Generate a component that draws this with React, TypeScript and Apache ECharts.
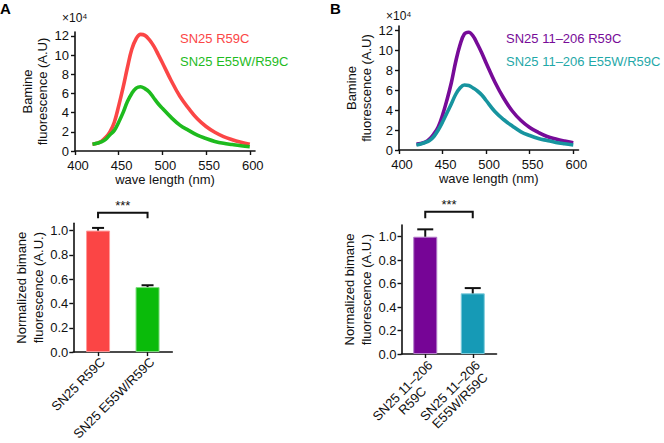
import React, { useEffect, useRef } from "react";
import * as echarts from "echarts";

// ---------- data ----------
const wavelength = [420, 425, 430, 435, 440, 445, 450, 455, 460, 465, 470, 475, 480, 485, 490, 495, 500, 510, 520, 530, 540, 550, 560, 570, 580, 590, 600];
const redA = [0.7, 0.8, 1.0, 1.4, 2.0, 3.0, 4.7, 6.6, 8.7, 10.6, 11.7, 12.15, 12.05, 11.6, 10.95, 10.1, 9.2, 7.35, 5.7, 4.45, 3.35, 2.55, 1.95, 1.5, 1.18, 0.92, 0.7];
const greenA = [0.7, 0.8, 0.95, 1.2, 1.7, 2.15, 3.0, 4.0, 5.15, 6.0, 6.55, 6.7, 6.5, 6.15, 5.55, 4.95, 4.45, 3.5, 2.7, 2.15, 1.65, 1.3, 1.0, 0.8, 0.67, 0.55, 0.45];
const purpleB = [0.6, 0.65, 0.78, 1.1, 1.6, 2.3, 3.5, 5.0, 6.7, 8.8, 10.5, 11.6, 11.78, 11.4, 10.6, 9.7, 8.7, 6.8, 5.2, 3.9, 2.95, 2.25, 1.75, 1.35, 1.1, 0.9, 0.73];
const tealB = [0.5, 0.6, 0.75, 0.95, 1.35, 2.0, 2.8, 3.7, 4.6, 5.55, 6.2, 6.5, 6.45, 6.2, 5.9, 5.5, 4.95, 3.85, 3.05, 2.4, 1.82, 1.45, 1.15, 0.95, 0.76, 0.62, 0.5];

const seriesNamesA = ["SN25 R59C", "SN25 E55W/R59C"];
const seriesNamesB = ["SN25 11\u2013206 R59C", "SN25 11\u2013206 E55W/R59C"];

const xTicks = [400, 450, 500, 550, 600];
const yTicksLine = [0, 2, 4, 6, 8, 10, 12];
const yTicksBar = [0, 0.2, 0.4, 0.6, 0.8, 1.0];

const barCatsA = ["SN25 R59C", "SN25 E55W/R59C"];
const barValsA = [1.0, 0.535];
const barErrA = [0.022, 0.015];
const barCatsB = ["SN25 11\u2013206\nR59C", "SN25 11\u2013206\nE55W/R59C"];
const barValsB = [1.0, 0.517];
const barErrB = [0.063, 0.045];

// bracket: [cat1, cat2, legBottom, barTop, starY]
const bracketA = [0, 1, 1.101, 1.147, 1.21];
const bracketB = [0, 1, 1.157, 1.213, 1.274];
const sigLabel = "***";

const colors = {
  red: "#fb4646",
  green: "#1ebb1e",
  purple: "#770b98",
  teal: "#17949f",
  tealText: "#1fa8a8",
  barRed: "#fb4545",
  barGreen: "#0abb0a",
  barPurple: "#760596",
  barTeal: "#169ab6",
};

const FONT = "'Liberation Sans', Arial, Helvetica, sans-serif";
const INK = "#111";

export default function App() {
  const ref = useRef<HTMLDivElement>(null);

  useEffect(() => {
    if (!ref.current) return;
    const chart = echarts.init(ref.current, null, { renderer: "svg" });

    const axisLine = { show: true, lineStyle: { color: INK, width: 1.6 } };
    const tick = (vals: number[]) => ({ show: true, length: 4, lineStyle: { color: INK, width: 1.4 }, customValues: vals });
    const lbl = (vals: number[], extra: any = {}) => ({
      customValues: vals,
      color: INK,
      fontSize: 13,
      fontFamily: FONT,
      ...extra,
    });

    const lineX = (grid: number) => ({
      gridIndex: grid,
      type: "value",
      min: 400,
      max: 606,
      axisLine,
      axisTick: tick(xTicks),
      axisLabel: lbl(xTicks, { margin: 7, padding: [0, 0, 0, 6], lineHeight: 14 }),
      splitLine: { show: false },
      name: "wave length (nm)",
      nameLocation: "middle",
      nameGap: 19.5,
      nameTextStyle: { color: INK, fontSize: 13, fontFamily: FONT },
    });
    const lineY = (grid: number, gap: number) => ({
      gridIndex: grid,
      type: "value",
      min: 0,
      max: 12.4,
      axisLine,
      axisTick: tick(yTicksLine),
      axisLabel: lbl(yTicksLine, { margin: 6, lineHeight: 12 }),
      splitLine: { show: false },
      name: "Bamine\nfluorescence (A.U)",
      nameLocation: "middle",
      nameRotate: 90,
      nameGap: gap,
      nameTextStyle: { color: INK, fontSize: 13, fontFamily: FONT, lineHeight: 15.5 },
    });
    const barX = (grid: number, cats: string[], rich: boolean) => ({
      gridIndex: grid,
      type: "category",
      data: cats,
      axisLine,
      axisTick: { show: true, alignWithLabel: true, length: 4, lineStyle: { color: INK, width: 1.4 } },
      axisLabel: rich
        ? {
            interval: 0,
            rotate: 45,
            margin: 4,
            verticalAlign: "top",
            formatter: (v: string) => v.split("\n").map((s) => "{c|" + s + "}").join("\n"),
            rich: { c: { align: "center", color: INK, fontSize: 13, fontFamily: FONT, lineHeight: 14 } },
          }
        : { interval: 0, rotate: 45, margin: 3, verticalAlign: "top", color: INK, fontSize: 13, fontFamily: FONT },
      splitLine: { show: false },
    });
    const barY = (grid: number, max: number, gap: number) => ({
      gridIndex: grid,
      type: "value",
      min: 0,
      max,
      axisLine,
      axisTick: tick(yTicksBar),
      axisLabel: lbl(yTicksBar, { margin: 5, formatter: (v: number) => v.toFixed(1) }),
      splitLine: { show: false },
      name: "Normalized bimane\nfluorescence (A.U.)",
      nameLocation: "middle",
      nameRotate: 90,
      nameGap: gap,
      nameTextStyle: { color: INK, fontSize: 13, fontFamily: FONT, lineHeight: 16.5 },
    });

    const lineSeries = (name: string, xi: number, ys: number[], color: string) => ({
      name,
      type: "line",
      xAxisIndex: xi,
      yAxisIndex: xi,
      data: wavelength.map((w, i) => [w, ys[i]]),
      smooth: 0.4,
      showSymbol: false,
      lineStyle: { color, width: 3.6 },
      itemStyle: { color },
      z: 3,
    });

    const errSeries = (xi: number, vals: number[], errs: number[], cap: number) => ({
      type: "custom",
      xAxisIndex: xi,
      yAxisIndex: xi,
      clip: false,
      z: 4,
      data: vals.map((v, i) => [i, v, errs[i]]),
      renderItem: (params: any, api: any) => {
        const c = api.value(0);
        const v = api.value(1);
        const e = api.value(2);
        const base = api.coord([c, v]);
        const top = api.coord([c, v + e]);
        const st = { stroke: INK, lineWidth: 2 };
        return {
          type: "group",
          children: [
            { type: "line", shape: { x1: base[0], y1: base[1], x2: top[0], y2: top[1] }, style: st },
            { type: "line", shape: { x1: top[0] - cap / 2, y1: top[1], x2: top[0] + cap / 2, y2: top[1] }, style: st },
          ],
        };
      },
    });

    const bracketSeries = (xi: number, b: number[]) => ({
      type: "custom",
      xAxisIndex: xi,
      yAxisIndex: xi,
      clip: false,
      z: 4,
      data: [b],
      renderItem: (params: any, api: any) => {
        const c1 = api.value(0);
        const c2 = api.value(1);
        const p1 = api.coord([c1, api.value(2)]);
        const p2 = api.coord([c1, api.value(3)]);
        const p3 = api.coord([c2, api.value(3)]);
        const p4 = api.coord([c2, api.value(2)]);
        const s = api.coord([(c1 + c2) / 2, api.value(4)]);
        return {
          type: "group",
          children: [
            { type: "polyline", shape: { points: [p1, p2, p3, p4] }, style: { stroke: INK, lineWidth: 2, fill: "none" } },
            {
              type: "text",
              x: (p2[0] + p3[0]) / 2,
              y: s[1],
              style: { text: sigLabel, align: "center", verticalAlign: "middle", fontSize: 13, fontFamily: FONT, fill: INK },
            },
          ],
        };
      },
    });

    const barSeries = (xi: number, vals: number[], cols: string[], borders: string[]) => ({
      type: "bar",
      name: "bars" + xi,
      xAxisIndex: xi,
      yAxisIndex: xi,
      barWidth: 24,
      data: vals.map((v, i) => ({ value: v, itemStyle: { color: cols[i], borderColor: borders[i], borderWidth: 1 } })),
      z: 2,
    });

    const legend = (left: number, names: string[], cols: string[]) => ({
      left,
      top: 31,
      padding: 0,
      orient: "vertical",
      icon: "none",
      itemWidth: 0,
      itemHeight: 14,
      itemGap: 10,
      selectedMode: false,
      textStyle: { fontSize: 13, fontFamily: FONT },
      data: names.map((n, i) => ({ name: n, textStyle: { color: cols[i], fontSize: 13, fontFamily: FONT } })),
    });

    const option: any = {
      animation: false,
      backgroundColor: "#fff",
      textStyle: { fontFamily: FONT },
      grid: [
        { left: 75, top: 32, width: 180, height: 119 },
        { left: 399, top: 26, width: 179.5, height: 124 },
        { left: 73.3, top: 223.3, width: 99, height: 130 },
        { left: 401.5, top: 225, width: 95, height: 129 },
      ],
      xAxis: [lineX(0), lineX(1), barX(2, barCatsA, false), barX(3, barCatsB, true)],
      yAxis: [lineY(0, 22), lineY(1, 23), barY(2, 1.06, 23), barY(3, 1.1, 24)],
      legend: [
        legend(175, seriesNamesA, [colors.red, colors.green]),
        legend(501, seriesNamesB, [colors.purple, colors.tealText]),
      ],
      series: [
        lineSeries(seriesNamesA[0], 0, redA, colors.red),
        lineSeries(seriesNamesA[1], 0, greenA, colors.green),
        lineSeries(seriesNamesB[0], 1, purpleB, colors.purple),
        lineSeries(seriesNamesB[1], 1, tealB, colors.teal),
        barSeries(2, barValsA, [colors.barRed, colors.barGreen], ["#ff9a9a", "#7fdc7f"]),
        barSeries(3, barValsB, [colors.barPurple, colors.barTeal], ["#b27ac8", "#7ccbdb"]),
        errSeries(2, barValsA, barErrA, 12),
        errSeries(3, barValsB, barErrB, 16),
        bracketSeries(2, bracketA),
        bracketSeries(3, bracketB),
      ],
      graphic: [
        { type: "text", left: 0, top: 1, style: { text: "A", fontSize: 15, fontWeight: "bold", fontFamily: FONT, fill: "#000" } },
        { type: "text", left: 330, top: 1, style: { text: "B", fontSize: 15, fontWeight: "bold", fontFamily: FONT, fill: "#000" } },
        { type: "text", left: 62, top: 12, style: { text: "\u00d710\u2074", fontSize: 12, fontFamily: FONT, fill: INK } },
        { type: "text", left: 386, top: 10, style: { text: "\u00d710\u2074", fontSize: 12, fontFamily: FONT, fill: INK } },
      ],
    };

    chart.setOption(option);
    return () => chart.dispose();
  }, []);

  return <div ref={ref} style={{ position: "absolute", left: 0, top: 0, width: 664, height: 443 }} />;
}
